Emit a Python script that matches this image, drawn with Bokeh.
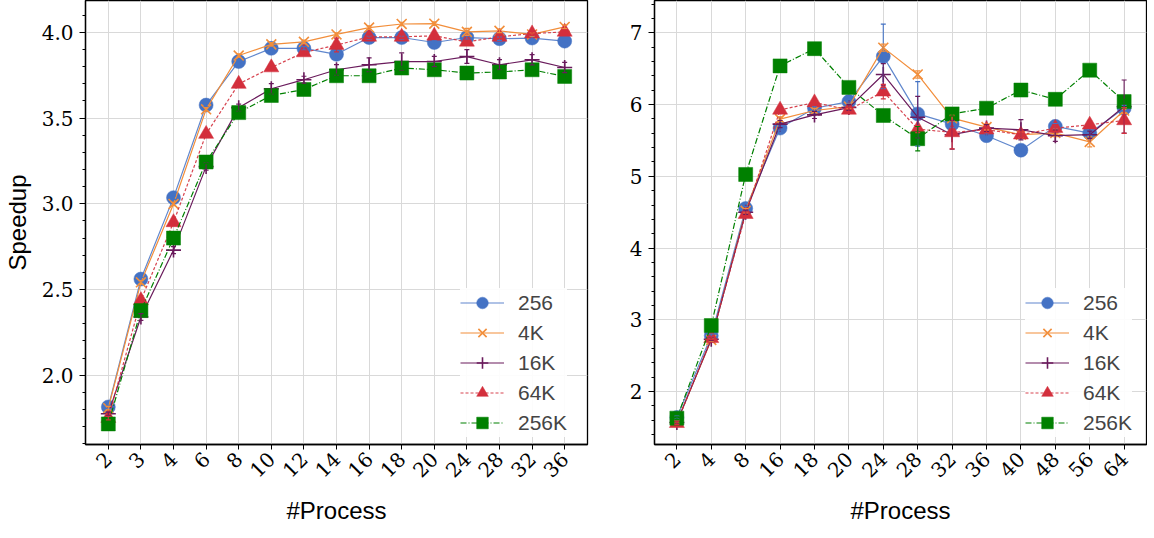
from bokeh.plotting import figure
from bokeh.layouts import row
from bokeh.models import Range1d, FixedTicker, Whisker, ColumnDataSource, TeeHead
from bokeh.embed import file_html
from bokeh.resources import INLINE

# ---------------- data ----------------
procs_left = ["2", "3", "4", "6", "8", "10", "12", "14", "16", "18", "20", "24", "28", "32", "36"]
procs_right = ["2", "4", "8", "16", "18", "20", "24", "28", "32", "36", "40", "48", "56", "64"]

series_names = ["256", "4K", "16K", "64K", "256K"]

left_256 = [1.815, 2.561, 3.036, 3.576, 3.830, 3.907, 3.907, 3.872, 3.970, 3.970, 3.941, 3.970, 3.963, 3.967, 3.949]
left_4k = [1.808, 2.542, 2.999, 3.551, 3.865, 3.930, 3.945, 3.988, 4.028, 4.049, 4.051, 4.003, 4.009, 3.988, 4.032]
left_16k = [1.775, 2.340, 2.730, 3.217, 3.561, 3.671, 3.724, 3.782, 3.811, 3.830, 3.830, 3.859, 3.811, 3.840, 3.795]
left_64k = [1.750, 2.437, 2.892, 3.407, 3.699, 3.795, 3.883, 3.926, 3.974, 3.974, 3.980, 3.945, 3.974, 3.993, 4.003]
left_256k = [1.716, 2.377, 2.800, 3.244, 3.532, 3.632, 3.667, 3.747, 3.747, 3.792, 3.782, 3.763, 3.769, 3.782, 3.743]

left_256_err = [0.01, 0.01, 0.01, 0.01, 0.01, 0.01, 0.01, 0.02, 0.01, 0.01, 0.01, 0.01, 0.01, 0.01, 0.01]
left_4k_err = [0.01, 0.01, 0.01, 0.01, 0.01, 0.01, 0.01, 0.01, 0.01, 0.01, 0.01, 0.02, 0.01, 0.01, 0.01]
left_16k_err = [0.01, 0.02, 0.02, 0.02, 0.02, 0.03, 0.02, 0.03, 0.04, 0.05, 0.03, 0.04, 0.03, 0.03, 0.03]
left_64k_err = [0.01, 0.01, 0.01, 0.01, 0.01, 0.01, 0.01, 0.04, 0.01, 0.01, 0.02, 0.01, 0.01, 0.01, 0.01]
left_256k_err = [0.01, 0.01, 0.01, 0.01, 0.01, 0.01, 0.01, 0.01, 0.03, 0.01, 0.01, 0.01, 0.01, 0.01, 0.01]

right_256 = [1.638, 2.780, 4.552, 5.672, 5.949, 6.041, 6.672, 5.870, 5.728, 5.566, 5.364, 5.696, 5.603, 5.949]
right_4k = [1.580, 2.720, 4.520, 5.797, 5.917, 5.972, 6.793, 6.419, 5.811, 5.686, 5.580, 5.603, 5.479, 5.917]
right_16k = [1.570, 2.730, 4.500, 5.728, 5.856, 5.958, 6.419, 5.824, 5.580, 5.672, 5.649, 5.566, 5.580, 5.972]
right_64k = [1.560, 2.744, 4.473, 5.926, 6.028, 5.926, 6.180, 5.658, 5.612, 5.649, 5.580, 5.672, 5.718, 5.779]
right_256k = [1.630, 2.920, 5.026, 6.539, 6.779, 6.239, 5.848, 5.524, 5.870, 5.949, 6.202, 6.073, 6.479, 6.041]

right_256_err = [0.02, 0.02, 0.03, 0.03, 0.03, 0.03, 0.45, 0.45, 0.05, 0.04, 0.03, 0.04, 0.04, 0.04]
right_4k_err = [0.02, 0.02, 0.03, 0.03, 0.03, 0.03, 0.05, 0.05, 0.04, 0.04, 0.04, 0.05, 0.07, 0.04]
right_16k_err = [0.02, 0.02, 0.03, 0.05, 0.05, 0.04, 0.15, 0.29, 0.20, 0.05, 0.14, 0.08, 0.05, 0.37]
right_64k_err = [0.02, 0.02, 0.03, 0.04, 0.04, 0.03, 0.10, 0.05, 0.23, 0.04, 0.04, 0.05, 0.05, 0.18]
right_256k_err = [0.02, 0.02, 0.03, 0.03, 0.03, 0.03, 0.03, 0.17, 0.03, 0.03, 0.03, 0.03, 0.03, 0.03]

left_yticks = [2.0, 2.5, 3.0, 3.5, 4.0]
left_yminor = [1.6, 1.7, 1.8, 1.9, 2.1, 2.2, 2.3, 2.4, 2.6, 2.7, 2.8, 2.9, 3.1, 3.2, 3.3, 3.4, 3.6, 3.7, 3.8, 3.9, 4.1]
right_yticks = [2, 3, 4, 5, 6, 7]
right_yminor = [1.4, 1.6, 1.8, 2.2, 2.4, 2.6, 2.8, 3.2, 3.4, 3.6, 3.8, 4.2, 4.4, 4.6, 4.8,
                5.2, 5.4, 5.6, 5.8, 6.2, 6.4, 6.6, 6.8, 7.2, 7.4]

# ---------------- styles ----------------
colors = ["#4472C4", "#F28E3B", "#6A1B5C", "#D32F3C", "#008000"]
markers = ["circle", "x", "cross", "triangle", "square"]
marker_sizes = [14, 14, 15, 15, 14]
dashes = ["solid", "solid", "solid", "3 2", "6 2 1 2"]
line_alphas = [0.85, 1.0, 1.0, 0.9, 1.0]

TICK_FONT = "DejaVu Serif"
LABEL_FONT = "Liberation Sans"


def make_panel(labels, data, errs, yr, yticks, yminor, ylabel, border_left, frame_w, border_right,
               border_top, frame_h, border_bottom, pad, legend_loc):
    n = len(labels)
    xs = list(range(n))
    p = figure(frame_width=frame_w, frame_height=frame_h,
               min_border_left=border_left, min_border_right=border_right,
               min_border_top=border_top, min_border_bottom=border_bottom,
               x_range=Range1d(-pad, n - 1 + pad), y_range=Range1d(*yr),
               output_backend="svg", toolbar_location=None)
    p.background_fill_color = "white"
    p.border_fill_color = "white"
    p.outline_line_color = "black"
    p.outline_line_width = 1.3

    for k in range(len(data)):
        c = colors[k]
        src = ColumnDataSource(dict(x=xs, y=data[k],
                                    up=[a + b for a, b in zip(data[k], errs[k])],
                                    lo=[a - b for a, b in zip(data[k], errs[k])]))
        p.line("x", "y", source=src, line_color=c, line_width=1.2, line_dash=dashes[k],
               line_alpha=line_alphas[k], legend_label=series_names[k])
        w = Whisker(source=src, base="x", upper="up", lower="lo", dimension="height",
                    line_color=c, line_width=1.2, line_alpha=0.9,
                    upper_head=TeeHead(size=5, line_color=c, line_width=1.2),
                    lower_head=TeeHead(size=5, line_color=c, line_width=1.2))
        w.level = "glyph"
        p.add_layout(w)
        if markers[k] in ("x", "cross"):
            p.scatter("x", "y", source=src, marker=markers[k], size=marker_sizes[k],
                      line_color=c, line_width=1.6, fill_color=c, legend_label=series_names[k])
        else:
            p.scatter("x", "y", source=src, marker=markers[k], size=marker_sizes[k],
                      fill_color=c, line_color=c, line_alpha=0.5, line_width=1,
                      legend_label=series_names[k])

    # grid
    p.xgrid.ticker = FixedTicker(ticks=xs)
    p.ygrid.ticker = FixedTicker(ticks=yticks)
    for g in (p.xgrid[0], p.ygrid[0]):
        g.grid_line_color = "#d9d9d9"
        g.grid_line_width = 1

    # x axis
    xa = p.xaxis[0]
    xa.ticker = FixedTicker(ticks=xs, minor_ticks=[])
    xa.major_label_overrides = {i: s for i, s in enumerate(labels)}
    xa.major_label_orientation = 0.785398
    xa.major_label_text_font = TICK_FONT
    xa.major_label_text_font_size = "20px"
    xa.major_label_text_line_height = 0.6
    xa.major_label_text_color = "black"
    xa.major_label_standoff = 6
    xa.major_tick_out = 5
    xa.major_tick_in = 0
    xa.axis_line_width = 1.3
    xa.axis_label = "#Process"
    xa.axis_label_text_font = LABEL_FONT
    xa.axis_label_text_font_style = "normal"
    xa.axis_label_text_font_size = "24px"
    xa.axis_label_text_line_height = 0.5
    xa.axis_label_text_color = "black"
    xa.axis_label_standoff = 10

    ya = p.yaxis[0]
    ya.ticker = FixedTicker(ticks=yticks, minor_ticks=yminor)
    ya.major_label_overrides = {t: (("%.1f" % t) if isinstance(t, float) else str(t)) for t in yticks}
    ya.major_label_text_font = TICK_FONT
    ya.major_label_text_font_size = "20px"
    ya.major_label_text_color = "black"
    ya.major_label_standoff = 6
    ya.major_tick_out = 6
    ya.major_tick_in = 0
    ya.minor_tick_out = 3
    ya.minor_tick_in = 0
    ya.axis_line_width = 1.3
    if ylabel:
        ya.axis_label = ylabel
        ya.axis_label_text_font = LABEL_FONT
        ya.axis_label_text_font_style = "normal"
        ya.axis_label_text_font_size = "24px"
        ya.axis_label_text_color = "black"
        ya.axis_label_standoff = 8

    lg = p.legend[0]
    lg.location = legend_loc
    lg.margin = 0
    lg.padding = 6
    lg.spacing = 1
    lg.glyph_width = 44
    lg.glyph_height = 29
    lg.label_height = 29
    lg.label_standoff = 14
    lg.label_text_font = LABEL_FONT
    lg.label_text_font_size = "21px"
    lg.border_line_color = None
    lg.background_fill_color = "white"
    lg.background_fill_alpha = 0.9
    return p


left = make_panel(procs_left, [left_256, left_4k, left_16k, left_64k, left_256k],
                  [left_256_err, left_4k_err, left_16k_err, left_64k_err, left_256k_err],
                  (1.596, 4.186), left_yticks, left_yminor, "Speedup",
                  76, 502, 8, 0, 444, 78, 0.7, (375, 7))
right = make_panel(procs_right, [right_256, right_4k, right_16k, right_64k, right_256k],
                   [right_256_err, right_4k_err, right_16k_err, right_64k_err, right_256k_err],
                   (1.263, 7.45), right_yticks, right_yminor, None,
                   59, 492, 1, 0, 444, 78, 0.65, (371, 7))

layout = row(left, right)
open("out.html", "w").write(file_html(layout, INLINE))
